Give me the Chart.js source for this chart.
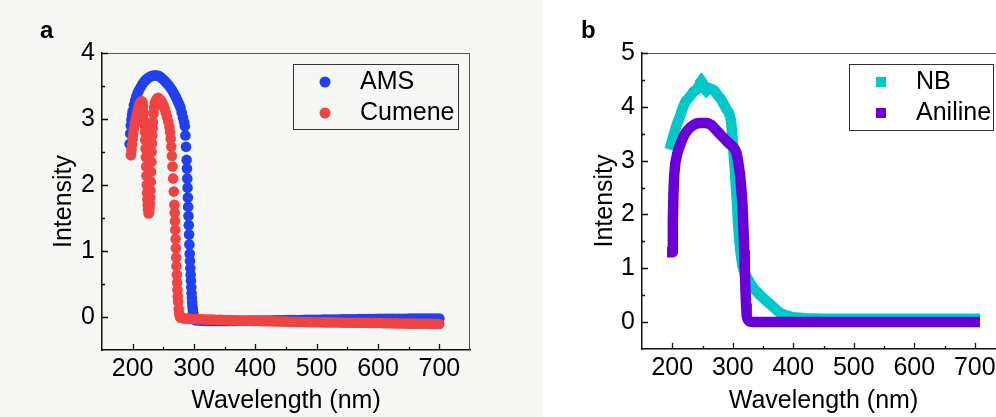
<!DOCTYPE html>
<html lang="en">
<head>
<meta charset="UTF-8">
<title>Absorption spectra</title>
<script src="https://cdn.jsdelivr.net/npm/chart.js"></script>
<style>
  html, body { margin: 0; padding: 0; overflow: hidden; }
  body { width: 996px; height: 417px; position: relative; background: #fff; }
  #panelA { position: absolute; left: 0; top: 0; width: 543px; height: 417px; background: #f6f6f4; }
  #panelB { position: absolute; left: 543px; top: 0; width: 470px; height: 417px; }
  canvas { position: absolute; left: 0; top: 0; }
  .tag { position: absolute; top: 18px; font: bold 24px "Liberation Sans", Arial, sans-serif; line-height: 24px; color: #000; }
</style>
</head>
<body>
  <div id="panelA"><canvas id="chartA" width="543" height="417"></canvas></div>
  <div id="panelB"><canvas id="chartB" width="470" height="417"></canvas></div>
  <div class="tag" style="left:40px">a</div>
  <div class="tag" style="left:581px">b</div>

<script>
// ---- data ----
const xTicks = [200, 300, 400, 500, 600, 700];
const xMinor = [250, 350, 450, 550, 650];
const yTicksA = [0, 1, 2, 3, 4];
const yMinorA = [0.5, 1.5, 2.5, 3.5];
const yTicksB = [0, 1, 2, 3, 4, 5];
const yMinorB = [0.5, 1.5, 2.5, 3.5, 4.5];

// panel a: AMS
const amsWl = [195,196,197,198,199,200,202,204,206,208,210,213,216,219,222,225,228,231,234,237,240,243,246,249,252,255,258,261,264,267,270,272,274,276,278,280,282,284,285,286,287,
  288,288.5,289,289.5,290,290.5,291,291.5,292,292.5,293,293.5,294,294.5,295,295.5,296,296.5,297,297.5,298,298.5,299,300,301,302];
const amsInt = [2.62,2.78,2.9,2.99,3.06,3.12,3.21,3.28,3.34,3.39,3.43,3.48,3.53,3.57,3.6,3.62,3.64,3.65,3.66,3.66,3.66,3.65,3.63,3.61,3.58,3.55,3.52,3.48,3.44,3.39,3.34,3.3,3.26,3.22,3.17,3.1,3.02,2.95,2.89,2.75,2.58,
  2.38,2.25,2.1,1.96,1.81,1.67,1.53,1.39,1.25,1.1,0.96,0.85,0.74,0.64,0.55,0.45,0.36,0.29,0.22,0.16,0.11,0.07,0.04,0.0,-0.03,-0.05];

// shared tail grid of both panel-a series
const tailWl = [305,310,315,320,325,330,335,340,345,350,355,360,365,370,375,380,385,390,395,400,
  405,410,415,420,425,430,435,440,445,450,455,460,465,470,475,480,485,490,495,500,
  505,510,515,520,525,530,535,540,545,550,555,560,565,570,575,580,585,590,595,600,
  605,610,615,620,625,630,635,640,645,650,655,660,665,670,675,680,685,690,695,700];
const amsTail = [-0.05,-0.055,-0.055,-0.06,-0.06,-0.06,-0.06,-0.06,-0.06,-0.06,
  -0.06,-0.058,-0.058,-0.057,-0.057,-0.056,-0.056,-0.055,-0.055,-0.054,
  -0.054,-0.053,-0.053,-0.052,-0.052,-0.051,-0.05,-0.05,-0.049,-0.048,
  -0.048,-0.047,-0.046,-0.046,-0.045,-0.044,-0.044,-0.043,-0.042,-0.042,
  -0.041,-0.04,-0.04,-0.039,-0.038,-0.038,-0.037,-0.036,-0.036,-0.035,
  -0.034,-0.034,-0.033,-0.032,-0.032,-0.031,-0.03,-0.03,-0.03,-0.029,
  -0.029,-0.028,-0.028,-0.028,-0.027,-0.027,-0.026,-0.026,-0.026,-0.025,
  -0.025,-0.025,-0.024,-0.024,-0.024,-0.023,-0.023,-0.023,-0.022,-0.022];

// panel a: Cumene
const cumWl = [197,198,199,200,201,202,203.5,205,206.5,208,209.5,211,212.5,214,215,216,217,218,219,219.5,220,220.5,221,221.5,222,222.5,223,223.5,224,224.5,225,226,227,227.5,228,228.5,229,229.5,230,230.5,231,231.5,232,232.5,233,234,235,236,237,238,240,242,244,
  246,248,250,252,254,256,258,260,261,262,263,264,265,266,267,268,268.5,269,269.5,270,270.5,271,271.5,272,272.5,273,273.5,274,275,276,277,278,280,283,286,290,295,300];
const cumInt = [2.45,2.53,2.61,2.7,2.78,2.85,2.93,3.0,3.06,3.12,3.17,3.22,3.25,3.27,3.27,3.25,3.2,3.1,2.98,2.9,2.8,2.68,2.55,2.42,2.28,2.14,2.0,1.88,1.78,1.7,1.63,1.57,1.6,1.65,1.72,1.81,1.92,2.05,2.2,2.35,2.5,2.63,2.75,2.86,2.95,3.08,3.17,3.23,3.26,3.28,3.31,3.32,3.3,
  3.28,3.25,3.21,3.16,3.1,3.03,2.96,2.88,2.8,2.7,2.58,2.44,2.28,2.1,1.9,1.7,1.58,1.45,1.32,1.18,1.04,0.9,0.77,0.64,0.52,0.41,0.31,0.23,0.12,0.05,0.01,-0.01,-0.015,-0.02,-0.022,-0.025,-0.028,-0.03];
const cumTail = [-0.032,-0.034,-0.035,-0.037,-0.038,-0.04,-0.041,-0.042,-0.044,-0.045,
  -0.047,-0.048,-0.05,-0.051,-0.053,-0.054,-0.055,-0.057,-0.058,-0.06,
  -0.061,-0.062,-0.063,-0.064,-0.065,-0.066,-0.067,-0.068,-0.069,-0.07,
  -0.071,-0.072,-0.073,-0.074,-0.075,-0.076,-0.077,-0.078,-0.079,-0.08,
  -0.08,-0.081,-0.082,-0.082,-0.083,-0.084,-0.084,-0.085,-0.085,-0.086,
  -0.086,-0.087,-0.087,-0.088,-0.088,-0.089,-0.089,-0.09,-0.09,-0.091,
  -0.092,-0.093,-0.094,-0.095,-0.096,-0.097,-0.098,-0.099,-0.1,-0.1,
  -0.101,-0.101,-0.102,-0.102,-0.103,-0.103,-0.104,-0.104,-0.105,-0.105];

// panel b: NB
const nbWl = [198,200,203,206,209,212,215,218,222,226,230,235,240,244,246,248,250,252,256,260,265,270,275,280,285,290,294,297,299,301,
  303,305,307,309,311,313,316,320,325,330,335,340,345,350,355,360,365,370,375,380,390,400,420,450,500,600,700];
const nbInt = [3.3,3.38,3.5,3.62,3.72,3.8,3.9,4.0,4.1,4.15,4.2,4.28,4.32,4.38,4.45,4.48,4.45,4.35,4.3,4.35,4.33,4.3,4.22,4.15,4.05,3.95,3.88,3.75,3.5,3.2,
  2.9,2.55,2.2,1.8,1.5,1.28,1.05,0.9,0.8,0.7,0.62,0.56,0.5,0.45,0.4,0.35,0.3,0.25,0.2,0.16,0.12,0.09,0.07,0.06,0.06,0.06,0.06];

// panel b: Aniline
const anWl = [200,201,202,203,205,208,212,216,220,225,230,235,240,245,250,255,260,265,270,275,280,285,290,295,300,303,306,308,310,312,
  314,316,318,319,320,321,322,323,325,328,335,400,500,600,700];
const anInt = [1.3,1.9,2.4,2.7,2.95,3.12,3.26,3.38,3.48,3.56,3.62,3.66,3.69,3.7,3.7,3.7,3.69,3.66,3.6,3.54,3.48,3.42,3.36,3.31,3.26,3.22,3.15,3.05,2.9,2.75,
  2.5,2.2,1.65,1.3,0.95,0.6,0.32,0.12,0.04,0.01,0,0,0,0,0];

const toPoints = (xs, ys) => xs.map((x, i) => ({ x: x, y: ys[i] }));

Chart.defaults.font.family = '"Liberation Sans", Arial, sans-serif';
Chart.defaults.color = '#000';

// box frame (top/right) and inward tick marks
const frameTicks = {
  id: 'frameTicks',
  afterDatasetsDraw(chart, args, opts) {
    const { ctx, chartArea: a, scales: { x, y } } = chart;
    ctx.save();
    ctx.strokeStyle = '#555';
    ctx.lineWidth = 1;
    ctx.beginPath();
    ctx.moveTo(a.left, a.top + 0.5);
    ctx.lineTo(a.right, a.top + 0.5);
    if (opts.rightEdge) {
      ctx.moveTo(a.right - 0.5, a.top);
      ctx.lineTo(a.right - 0.5, a.bottom);
    }
    ctx.stroke();

    ctx.strokeStyle = '#111';
    ctx.lineWidth = 1.3;
    ctx.beginPath();
    const xt = (v, len) => {
      const px = Math.round(x.getPixelForValue(v)) + 0.5;
      ctx.moveTo(px, a.bottom);
      ctx.lineTo(px, a.bottom - len);
    };
    const yt = (v, len) => {
      const py = Math.round(y.getPixelForValue(v)) + 0.5;
      ctx.moveTo(a.left, py);
      ctx.lineTo(a.left + len, py);
    };
    xTicks.forEach(v => xt(v, 6));
    xMinor.forEach(v => xt(v, 3));
    opts.yMajor.forEach(v => yt(v, 6));
    opts.yMinor.forEach(v => yt(v, 3));
    ctx.stroke();
    ctx.restore();
  }
};

// framed legend inside the plot
const boxLegend = {
  id: 'boxLegend',
  afterDraw(chart, args, opts) {
    const { ctx } = chart;
    const [bx, by, bw, bh] = opts.box;
    ctx.save();
    ctx.fillStyle = opts.fill;
    ctx.fillRect(bx, by, bw, bh);
    ctx.strokeStyle = '#333';
    ctx.lineWidth = 1;
    ctx.strokeRect(bx + 0.5, by + 0.5, bw, bh);
    ctx.font = '25px "Liberation Sans", Arial, sans-serif';
    ctx.textBaseline = 'middle';
    opts.order.forEach((di, row) => {
      const ds = chart.data.datasets[di];
      const cy = opts.rows[row];
      ctx.fillStyle = ds.legendColor;
      if (opts.shape === 'circle') {
        ctx.beginPath();
        ctx.arc(opts.markerX, cy, 5.5, 0, Math.PI * 2);
        ctx.fill();
      } else {
        ctx.fillRect(opts.markerX - 5, cy - 5, 10, 10);
      }
      ctx.fillStyle = '#000';
      ctx.fillText(ds.label, opts.textX, cy);
    });
    ctx.restore();
  }
};

function makeOptions(cfg) {
  return {
    responsive: false,
    animation: false,
    events: [],
    layout: { padding: cfg.padding },
    plugins: {
      legend: { display: false },
      tooltip: { enabled: false },
      frameTicks: { rightEdge: cfg.rightEdge, yMajor: cfg.yTicks, yMinor: cfg.yMinor },
      boxLegend: cfg.legend
    },
    scales: {
      x: {
        type: 'linear',
        min: 150,
        max: 750,
        afterBuildTicks: s => { s.ticks = xTicks.map(v => ({ value: v })); },
        afterFit: s => { s.height = cfg.xHeight; },
        grid: { display: false, drawTicks: false },
        border: { display: true, color: '#111', width: 1.5 },
        ticks: { font: { size: 25 }, color: '#000', padding: 4, maxRotation: 0, autoSkip: false },
        title: { display: true, text: 'Wavelength (nm)', font: { size: 25 }, color: '#000', padding: { top: 0, bottom: 1 } }
      },
      y: {
        type: 'linear',
        min: -0.5,
        max: cfg.yMax,
        afterBuildTicks: s => { s.ticks = cfg.yTicks.map(v => ({ value: v })); },
        afterFit: s => { s.width = cfg.yWidth; },
        grid: { display: false, drawTicks: false },
        border: { display: true, color: '#111', width: 1.5 },
        ticks: { font: { size: 25 }, color: '#000', padding: 7 },
        title: { display: true, text: 'Intensity', font: { size: 25 }, color: '#000', padding: { top: cfg.yTitlePad, bottom: 0 } }
      }
    }
  };
}

const blue = '#2140ee';
const red = '#ef4444';
const cyan = '#00c8c8';
const purple = '#6a00d8';

new Chart(document.getElementById('chartA'), {
  type: 'scatter',
  data: {
    datasets: [
      { label: 'AMS', data: toPoints(amsWl.concat(tailWl), amsInt.concat(amsTail)), legendColor: blue,
        backgroundColor: blue, borderColor: blue, pointRadius: 5.3, pointBorderWidth: 0, showLine: false, order: 1 },
      { label: 'Cumene', data: toPoints(cumWl.concat(tailWl), cumInt.concat(cumTail)), legendColor: red,
        backgroundColor: red, borderColor: red, pointRadius: 5.3, pointBorderWidth: 0, showLine: false, order: 0 }
    ]
  },
  options: makeOptions({
    padding: { left: 0, top: 53, right: 73, bottom: 0 },
    xHeight: 67, yWidth: 102, yMax: 4, yTicks: yTicksA, yMinor: yMinorA, yTitlePad: 49, rightEdge: true,
    legend: { box: [293, 64, 165, 65], fill: '#f6f6f4', shape: 'circle', order: [0, 1], rows: [82, 113], markerX: 325, textX: 360 }
  }),
  plugins: [frameTicks, boxLegend]
});

new Chart(document.getElementById('chartB'), {
  type: 'scatter',
  data: {
    datasets: [
      { label: 'NB', data: toPoints(nbWl, nbInt), legendColor: cyan,
        borderColor: cyan, backgroundColor: cyan, borderWidth: 10.5, pointRadius: 0, showLine: true,
        borderJoinStyle: 'miter', borderCapStyle: 'square', order: 1 },
      { label: 'Aniline', data: toPoints(anWl, anInt), legendColor: purple,
        borderColor: purple, backgroundColor: purple, borderWidth: 10.5, pointRadius: 0, showLine: true,
        borderJoinStyle: 'round', borderCapStyle: 'square', order: 0 }
    ]
  },
  options: makeOptions({
    padding: { left: 0, top: 53, right: 8, bottom: 0 },
    xHeight: 68, yWidth: 99, yMax: 5, yTicks: yTicksB, yMinor: yMinorB, yTitlePad: 47, rightEdge: false,
    legend: { box: [306, 64, 144, 66], fill: '#fff', shape: 'rect', order: [0, 1], rows: [82, 113], markerX: 338, textX: 373 }
  }),
  plugins: [frameTicks, boxLegend]
});
</script>
</body>
</html>
